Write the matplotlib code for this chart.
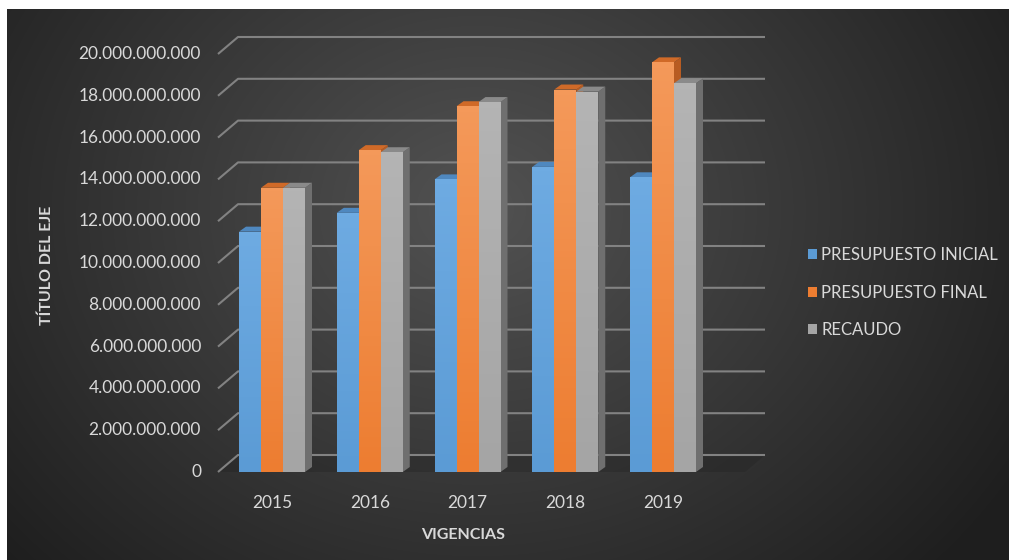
import numpy as np
import matplotlib
matplotlib.use("Agg")
import matplotlib.pyplot as plt
from matplotlib.patches import Polygon, Patch
from matplotlib.colors import to_rgb

plt.rcParams['font.family'] = ['Lato', 'DejaVu Sans']

years = ['2015', '2016', '2017', '2018', '2019']
series_names = ['PRESUPUESTO INICIAL', 'PRESUPUESTO FINAL', 'RECAUDO']
inicial = [11.5e9, 12.4e9, 14.0e9, 14.6e9, 14.1e9]
final = [13.6e9, 15.4e9, 17.5e9, 18.3e9, 19.6e9]
recaudo = [13.6e9, 15.3e9, 17.7e9, 18.2e9, 18.6e9]
yticks = [0, 2e9, 4e9, 6e9, 8e9, 10e9, 12e9, 14e9, 16e9, 18e9, 20e9]

face_colors = ['#5B9BD5', '#ED7D31', '#A5A5A5']
face_light = ['#6eabe2', '#f4995a', '#b4b4b4']
side_colors = ['#3f74a6', '#b85c22', '#6f6f6f']
top_colors = ['#4f88bf', '#d06a28', '#8a8a8a']

W, H = 1009, 560
fig = plt.figure(figsize=(W / 100, H / 100), dpi=100)
fig.patch.set_facecolor('white')

# dark radial background panel
bg = fig.add_axes([7 / W, 0, 1 - 7 / W, 1 - 9 / H])
yy, xx = np.mgrid[0:551, 0:1002]
d = np.sqrt(((xx - 470) / 620.0) ** 2 + ((yy - 200) / 520.0) ** 2)
d = np.clip(d, 0, 1)
inner = np.array([0x52, 0x52, 0x52]) / 255
outer = np.array([0x1f, 0x1f, 0x1f]) / 255
img = inner[None, None, :] * (1 - d[..., None]) + outer[None, None, :] * d[..., None]
bg.imshow(img, aspect='auto', extent=[0, 1, 0, 1], origin='upper')
bg.axis('off')

# main axes spanning the whole figure, scaled so data maps onto pixels
ax = fig.add_axes([0, 0, 1, 1])
ax.patch.set_alpha(0)
ax.axis('off')
px_x = 97.75          # pixels per category
x0_px = 272           # pixel of first category
px_per_b = 20.9       # pixels per 1e9
y0_px = 472           # pixel row of zero
xlim = (-x0_px / px_x, (W - x0_px) / px_x)
ylim = ((y0_px - H) / px_per_b * 1e9, y0_px / px_per_b * 1e9)

x_front = (218 - x0_px) / px_x
back_dx = 20 / px_x
back_dy = 17 / px_per_b * 1e9
x_end = (765 - x0_px) / px_x
grid_col = '#828282'

# floor
floor = Polygon([(x_front, 0), (x_front + back_dx, back_dy), (x_end, back_dy), (x_end - back_dx, 0)],
                closed=True, facecolor='#222222', edgecolor='none', alpha=0.35, zorder=1)
ax.add_patch(floor)

for v in yticks:
    ax.plot([x_front, x_front + back_dx, x_end], [v, v + back_dy, v + back_dy],
            color=grid_col, lw=1.5, zorder=2, solid_capstyle='butt')
    ax.text((201 - x0_px) / px_x, v, f"{v:,.0f}".replace(',', '.'),
            ha='right', va='center', color='#d9d9d9', fontsize=12.5)

# bars with a fake 3D side and top, front faces shaded lighter at the top
bw = 22 / px_x
ddx = 7 / px_x
ddy = 5 / px_per_b * 1e9
x = np.arange(len(years))
for k, vals in enumerate([inicial, final, recaudo]):
    xc = x + (k - 1) * bw
    bars = ax.bar(xc, vals, width=bw, color=face_colors[k], edgecolor='none', zorder=10 + 2 * k)
    c_top, c_bot = np.array(to_rgb(face_light[k])), np.array(to_rgb(face_colors[k]))
    for b, xi, h in zip(bars, xc, vals):
        xl, xr = xi - bw / 2, xi + bw / 2
        side = Polygon([(xr, 0), (xr + ddx, ddy), (xr + ddx, h + ddy), (xr, h)],
                       closed=True, facecolor=side_colors[k], edgecolor='none', zorder=9 + 2 * k)
        top = Polygon([(xl, h), (xl + ddx, h + ddy), (xr + ddx, h + ddy), (xr, h)],
                      closed=True, facecolor=top_colors[k], edgecolor='none', zorder=9 + 2 * k)
        ax.add_patch(side)
        ax.add_patch(top)
        t = np.linspace(0, 1, 64)[:, None]
        grad = (c_top * (1 - t) + c_bot * t)[:, None, :]
        im = ax.imshow(grad, extent=[xl, xr, 0, h], aspect='auto', origin='upper',
                       zorder=10 + 2 * k)
        im.set_clip_path(b)

ax.set_xlim(*xlim)
ax.set_ylim(*ylim)

for xi, lab in zip(x, years):
    ax.text(xi, (y0_px - 503) / px_per_b * 1e9, lab, ha='center', va='center',
            color='#d9d9d9', fontsize=12.5)

ax.text((463 - x0_px) / px_x, (y0_px - 535) / px_per_b * 1e9, 'VIGENCIAS',
        ha='center', va='center', color='#d9d9d9', fontsize=11.5, fontweight='bold')
ax.text((47 - x0_px) / px_x, (y0_px - 265) / px_per_b * 1e9, 'TÍTULO DEL EJE',
        ha='center', va='center', rotation=90, color='#d9d9d9', fontsize=11.5, fontweight='bold')

handles = [Patch(facecolor=c, edgecolor='none') for c in face_colors]
leg = fig.legend(handles, series_names, loc='upper left', bbox_to_anchor=(793 / W, 1 - 232 / H),
                 frameon=False, handlelength=0.55, handleheight=0.55, handletextpad=0.25,
                 labelspacing=1.3, fontsize=12)
for t in leg.get_texts():
    t.set_color('#d9d9d9')

fig.savefig('out.png', dpi=100, facecolor=fig.get_facecolor())
